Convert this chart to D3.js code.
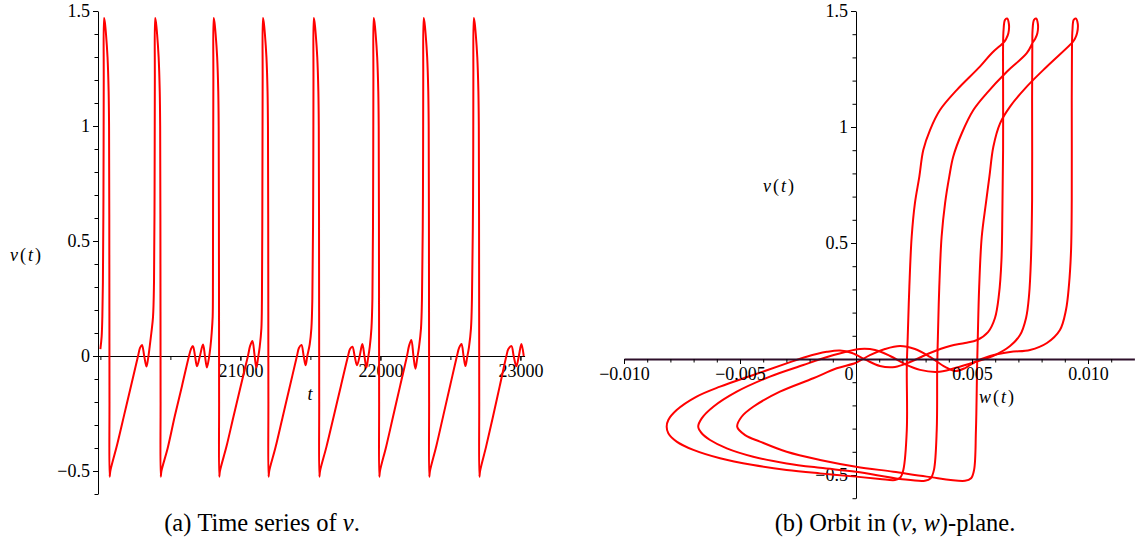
<!DOCTYPE html>
<html>
<head>
<meta charset="utf-8">
<script src="https://cdn.jsdelivr.net/npm/d3@7"></script>
<style>
  body { margin: 0; background: #fff; }
  svg text { font-family: "Liberation Serif", "Times New Roman", Times, serif; fill: #000; }
</style>
</head>
<body>
<svg id="chart" width="1135" height="550"></svg>
<script>
// ---- data ----
const timeTicks = [20000, 20500, 21000, 21500, 22000, 22500, 23000];
const timeLabels = [21000, 22000, 23000];
const vTicks = [-0.6, -0.5, -0.4, -0.3, -0.2, -0.1, 0, 0.1, 0.2, 0.3, 0.4, 0.5, 0.6, 0.7, 0.8, 0.9, 1, 1.1, 1.2, 1.3, 1.4, 1.5];
const vLabelsLeft = [-0.5, 0, 0.5, 1, 1.5];
const vLabelsRight = [-0.5, 0.5, 1, 1.5];
const wTicks = [-0.010, -0.009, -0.008, -0.007, -0.006, -0.005, -0.004, -0.003, -0.002, -0.001, 0, 0.001, 0.002, 0.003, 0.004, 0.005, 0.006, 0.007, 0.008, 0.009, 0.010, 0.011];
const wLabels = [-0.010, -0.005, 0.005, 0.010];

// v(t), t in [20000, 23024]
const timeSeries = [
  [20000,0.03],[20009,0.084],[20014,0.17],[20018,0.32],[20022,0.7],[20024,1.2],[20026,1.47],[20032,1.45],[20040,1.40],[20051,1.30],[20059,1.15],[20062,1.0],[20064,0.4],[20065,-0.2],[20066,-0.525],[20071,-0.5],
  [20120,-0.385],[20170,-0.256],[20220,-0.127],[20269,0],[20283,0.035],[20297,0.048],[20313,0],[20329,-0.046],[20341,-0.01],[20352,0.04],[20364,0.1],[20376,0.17],[20383,0.32],
  [20387,0.7],[20389,1.2],[20391,1.47],[20397,1.45],[20405,1.40],[20416,1.30],[20424,1.15],[20427,1.0],[20429,0.4],[20430,-0.2],[20431,-0.525],[20436,-0.5],
  [20481,-0.4],[20532,-0.26],[20583,-0.13],[20633,0],[20647,0.03],[20661,0.043],[20676,0],[20690,-0.045],[20711,0],[20733,0.05],[20747,0],[20761,-0.05],[20775,-0.01],[20786,0.04],[20795,0.1],[20802,0.17],[20804,0.32],
  [20805,0.7],[20807,1.2],[20809,1.47],[20815,1.45],[20823,1.40],[20834,1.30],[20842,1.15],[20845,1.0],[20847,0.4],[20848,-0.2],[20849,-0.525],[20854,-0.5],
  [20900,-0.395],[20950,-0.265],[21000,-0.137],[21054,0],[21070,0.045],[21086,0.065],[21101,0.005],[21114,-0.05],[21126,-0.01],[21138,0.04],[21150,0.12],[21154,0.25],
  [21157,0.7],[21159,1.2],[21161,1.47],[21167,1.45],[21175,1.40],[21186,1.30],[21194,1.15],[21197,1.0],[21199,0.4],[21200,-0.2],[21201,-0.525],[21206,-0.5],
  [21251,-0.397],[21302,-0.265],[21353,-0.133],[21404,0],[21418,0.035],[21436,0.048],[21452,0],[21466,-0.04],[21478,0],[21495,0.05],[21507,0.12],[21514,0.25],
  [21520,0.7],[21522,1.2],[21524,1.47],[21530,1.45],[21538,1.40],[21549,1.30],[21557,1.15],[21560,1.0],[21562,0.4],[21563,-0.2],[21564,-0.525],[21569,-0.5],
  [21615,-0.394],[21666,-0.264],[21718,-0.13],[21769,0],[21783,0.03],[21800,0.04],[21816,0],[21833,-0.04],[21852,0],[21871,0.052],[21886,0],[21900,-0.05],[21912,-0.01],[21924,0.04],[21936,0.12],[21943,0.25],
  [21948,0.7],[21950,1.2],[21952,1.47],[21958,1.45],[21966,1.40],[21977,1.30],[21985,1.15],[21988,1.0],[21990,0.4],[21991,-0.2],[21992,-0.525],[21997,-0.5],
  [22042,-0.392],[22091,-0.262],[22141,-0.13],[22190,0],[22205,0.045],[22221,0.07],[22236,0],[22250,-0.055],[22263,-0.01],[22276,0.04],[22290,0.12],[22297,0.25],
  [22304,0.7],[22306,1.2],[22309,1.47],[22315,1.45],[22323,1.40],[22334,1.30],[22342,1.15],[22345,1.0],[22347,0.4],[22348,-0.2],[22349,-0.525],[22354,-0.5],
  [22400,-0.39],[22450,-0.257],[22500,-0.124],[22547,0],[22562,0.035],[22579,0.052],[22594,0],[22607,-0.044],[22620,-0.005],[22633,0.04],[22647,0.12],[22654,0.25],
  [22662,0.7],[22664,1.2],[22667,1.47],[22673,1.45],[22681,1.40],[22692,1.30],[22700,1.15],[22703,1.0],[22705,0.4],[22706,-0.2],[22707,-0.525],[22712,-0.5],
  [22755,-0.394],[22804,-0.264],[22852,-0.132],[22900,0],[22914,0.03],[22936,0.043],[22952,0],[22971,-0.045],[22989,0],[23007,0.052],[23024,0]
];

// orbit (w, v): three closed loops, outer / middle / inner
const orbitOuter = [
  [-8.16e-3,-0.292],[-8.09e-3,-0.263],[-7.73e-3,-0.220],[-6.87e-3,-0.162],[-5.86e-3,-0.119],[-4.43e-3,-0.069],[-2.99e-3,-0.019],[-2.13e-3,0.010],[-1.26e-3,0.031],[-0.69e-3,0.037],[-0.17e-3,0.026],[0.43e-3,-0.004],[1.03e-3,-0.030],[1.68e-3,-0.034],[2.33e-3,-0.013],[3.19e-3,0.026],[4.05e-3,0.056],[4.70e-3,0.069],[5.22e-3,0.082],[5.69e-3,0.116],[5.99e-3,0.177],[6.16e-3,0.276],[6.27e-3,0.427],[6.31e-3,0.642],[6.34e-3,0.901],[6.34e-3,1.203],[6.34e-3,1.353],
  [6.36e-3,1.418],[6.42e-3,1.461],[6.51e-3,1.468],[6.59e-3,1.444],[6.57e-3,1.405],[6.47e-3,1.379],[6.38e-3,1.366],[5.86e-3,1.319],[5.34e-3,1.260],[4.34e-3,1.159],[3.62e-3,1.073],[3.19e-3,0.987],[2.90e-3,0.901],[2.73e-3,0.786],[2.54e-3,0.672],[2.40e-3,0.527],[2.30e-3,0.312],[2.23e-3,0.096],[2.19e-3,-0.033],[2.19e-3,-0.306],[2.04e-3,-0.478],[1.90e-3,-0.512],[1.68e-3,-0.522],[1.03e-3,-0.517],
  [0,-0.507],[-1.55e-3,-0.493],[-2.99e-3,-0.478],[-4.43e-3,-0.457],[-5.86e-3,-0.428],[-7.01e-3,-0.392],[-7.73e-3,-0.356],[-8.09e-3,-0.320]
];
const orbitMiddle = [
  [-6.80e-3,-0.292],[-6.65e-3,-0.256],[-6.15e-3,-0.206],[-5.14e-3,-0.141],[-3.71e-3,-0.076],[-2.27e-3,-0.026],[-1.55e-3,-0.001],[-0.47e-3,0.030],[0.17e-3,0.043],[0.82e-3,0.039],[1.47e-3,0.013],[2.11e-3,-0.022],[2.76e-3,-0.047],[3.49e-3,-0.056],[4.27e-3,-0.039],[5.13e-3,-0.013],[5.99e-3,0.017],[6.64e-3,0.056],[7.07e-3,0.103],[7.33e-3,0.177],[7.46e-3,0.276],[7.54e-3,0.427],[7.59e-3,0.685],[7.59e-3,1.116],[7.60e-3,1.353],
  [7.61e-3,1.418],[7.67e-3,1.461],[7.76e-3,1.468],[7.84e-3,1.444],[7.82e-3,1.405],[7.72e-3,1.379],[7.63e-3,1.366],[7.36e-3,1.318],[6.50e-3,1.238],[5.63e-3,1.145],[5.06e-3,1.073],[4.56e-3,0.973],[4.19e-3,0.872],[4.02e-3,0.786],[3.84e-3,0.672],[3.69e-3,0.527],[3.59e-3,0.312],[3.53e-3,0.096],[3.50e-3,-0.033],[3.48e-3,-0.306],[3.36e-3,-0.478],[3.22e-3,-0.514],[2.97e-3,-0.525],[1.90e-3,-0.517],
  [0,-0.486],[-1.55e-3,-0.469],[-2.99e-3,-0.450],[-4.43e-3,-0.421],[-5.57e-3,-0.385],[-6.29e-3,-0.349],[-6.65e-3,-0.320]
];
const orbitInner = [
  [-5.12e-3,-0.292],[-4.93e-3,-0.249],[-4.43e-3,-0.206],[-3.28e-3,-0.141],[-1.84e-3,-0.083],[-0.83e-3,-0.040],[0,-0.016],[0.60e-3,0.017],[1.25e-3,0.043],[1.90e-3,0.056],[2.54e-3,0.043],[3.19e-3,0.009],[3.84e-3,-0.034],[4.27e-3,-0.052],[4.70e-3,-0.039],[5.13e-3,-0.013],[5.78e-3,0.013],[6.64e-3,0.030],[7.50e-3,0.039],[8.23e-3,0.069],[8.79e-3,0.125],[9.05e-3,0.211],[9.18e-3,0.319],[9.27e-3,0.470],[9.30e-3,0.685],[9.30e-3,1.116],[9.31e-3,1.353],
  [9.33e-3,1.418],[9.38e-3,1.461],[9.47e-3,1.468],[9.56e-3,1.444],[9.53e-3,1.405],[9.43e-3,1.379],[9.34e-3,1.366],[8.22e-3,1.260],[7.36e-3,1.174],[6.64e-3,1.088],[6.21e-3,1.016],[5.92e-3,0.915],[5.75e-3,0.786],[5.60e-3,0.672],[5.42e-3,0.527],[5.31e-3,0.312],[5.25e-3,0.096],[5.22e-3,-0.033],[5.17e-3,-0.306],[5.09e-3,-0.478],[4.96e-3,-0.514],[4.70e-3,-0.525],[3.05e-3,-0.507],[1.61e-3,-0.486],
  [0,-0.464],[-1.55e-3,-0.435],[-2.99e-3,-0.400],[-4.14e-3,-0.356],[-4.78e-3,-0.328]
];

const svg = d3.select("#chart");
const red = "#ff0000";
const serif = '"Liberation Serif", "Times New Roman", Times, serif';
const minus = (s) => s.replace("-", "\u2212");

// ---- (a) time series ----
const xT = d3.scaleLinear().domain([19983, 23030]).range([98, 524.6]);
const yA = d3.scaleLinear().domain([-0.6, 1.5]).range([494, 11]);

const gA = svg.append("g");

gA.append("g")
  .attr("transform", `translate(0,${yA(0)})`)
  .call(d3.axisBottom(xT).tickValues(timeTicks).tickSize(4).tickSizeOuter(0).tickFormat(""));
gA.append("g")
  .attr("transform", `translate(0,${yA(0)})`)
  .call(d3.axisBottom(xT).tickValues(timeLabels).tickSize(5).tickPadding(3).tickSizeOuter(0).tickFormat(d3.format("d")))
  .call((g) => g.select(".domain").remove());

gA.append("g")
  .attr("transform", `translate(${xT.range()[0]},0)`)
  .call(d3.axisLeft(yA).tickValues(vTicks).tickSize(3.5).tickSizeOuter(0).tickFormat(""));
gA.append("g")
  .attr("transform", `translate(${xT.range()[0]},0)`)
  .call(d3.axisLeft(yA).tickValues(vLabelsLeft).tickSize(5).tickPadding(3).tickSizeOuter(0).tickFormat((d) => minus(String(d))))
  .call((g) => g.select(".domain").remove());

gA.append("path")
  .datum(timeSeries)
  .attr("fill", "none")
  .attr("stroke", red)
  .attr("stroke-width", 2)
  .attr("stroke-linejoin", "round")
  .attr("d", d3.line().x((d) => xT(d[0])).y((d) => yA(d[1])).curve(d3.curveCatmullRom.alpha(0.5)));

// ---- (b) orbit ----
const xW = d3.scaleLinear().domain([-0.010, 0.0120]).range([624, 1134.4]);
const yB = d3.scaleLinear().domain([-0.6, 1.5]).range([498.2, 11]);

const gB = svg.append("g");

gB.append("g")
  .attr("transform", `translate(${xW(0)},0)`)
  .call(d3.axisLeft(yB).tickValues(vTicks).tickSize(3.5).tickSizeOuter(0).tickFormat(""));
gB.append("g")
  .attr("transform", `translate(${xW(0)},0)`)
  .call(d3.axisLeft(yB).tickValues(vLabelsRight).tickSize(5).tickPadding(3).tickSizeOuter(0).tickFormat((d) => minus(String(d))))
  .call((g) => g.select(".domain").remove());

const orbitLine = d3.line().x((d) => xW(d[0])).y((d) => yB(d[1])).curve(d3.curveCatmullRomClosed.alpha(0.5));
[orbitOuter, orbitMiddle, orbitInner].forEach((loop) => {
  gB.append("path")
    .datum(loop)
    .attr("fill", "none")
    .attr("stroke", red)
    .attr("stroke-width", 2)
    .attr("stroke-linejoin", "round")
    .attr("d", orbitLine);
});

const xAxisB = gB.append("g")
  .attr("transform", `translate(0,${yB(0)})`)
  .call(d3.axisBottom(xW).tickValues(wTicks).tickSize(3.5).tickSizeOuter(0).tickFormat(""));
xAxisB.select(".domain").attr("stroke", "#2d0f2a").attr("stroke-width", 2);
gB.append("g")
  .attr("transform", `translate(0,${yB(0)})`)
  .call(d3.axisBottom(xW).tickValues(wLabels).tickSize(5).tickPadding(3).tickSizeOuter(0).tickFormat((d) => minus(d3.format(".3f")(d))))
  .call((g) => g.select(".domain").remove());

// tick label font
svg.selectAll(".tick text").attr("font-size", 18).style("font-family", serif);
svg.selectAll(".tick line").attr("stroke", "#000");

// origin "0" on the orbit panel
gB.append("text")
  .attr("x", xW(0) - 7)
  .attr("y", yB(0) + 8)
  .attr("dy", "0.71em")
  .attr("text-anchor", "middle")
  .attr("font-size", 18)
  .style("font-family", serif)
  .text("0");

// ---- axis titles ----
function mathLabel(g, x, y, name) {
  const t = g.append("text")
    .attr("x", x)
    .attr("y", y)
    .attr("dy", "0.35em")
    .attr("font-size", 18)
    .style("font-family", serif);
  t.append("tspan").attr("font-style", "italic").text(name);
  t.append("tspan").attr("dx", 2).text("(");
  t.append("tspan").attr("dx", 2).attr("font-style", "italic").text("t");
  t.append("tspan").attr("dx", 2).text(")");
}
mathLabel(svg, 10, 255, "v");
mathLabel(svg, 763, 186, "v");
mathLabel(svg, 979, 397, "w");

svg.append("text")
  .attr("x", 310)
  .attr("y", 394)
  .attr("dy", "0.35em")
  .attr("text-anchor", "middle")
  .attr("font-size", 18)
  .attr("font-style", "italic")
  .style("font-family", serif)
  .text("t");

// ---- captions ----
const capA = svg.append("text")
  .attr("x", 262)
  .attr("y", 531)
  .attr("text-anchor", "middle")
  .attr("font-size", 24.5)
  .style("font-family", serif);
capA.append("tspan").text("(a)");
capA.append("tspan").attr("dx", 6).text("Time series of ");
capA.append("tspan").attr("font-style", "italic").text("v");
capA.append("tspan").text(".");

const capB = svg.append("text")
  .attr("x", 895)
  .attr("y", 531)
  .attr("text-anchor", "middle")
  .attr("font-size", 24.5)
  .style("font-family", serif);
capB.append("tspan").text("(b)");
capB.append("tspan").attr("dx", 6).text("Orbit in (");
capB.append("tspan").attr("font-style", "italic").text("v");
capB.append("tspan").text(", ");
capB.append("tspan").attr("font-style", "italic").text("w");
capB.append("tspan").text(")-plane.");
</script>
</body>
</html>
